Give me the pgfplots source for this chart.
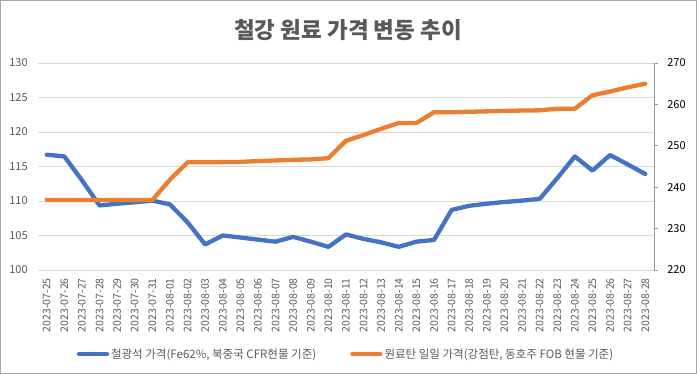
\documentclass[border=0pt]{standalone}
\usepackage{fontspec}
\setmainfont{Noto Sans CJK KR}
\usepackage{pgfplots}
\pgfplotsset{compat=1.18}
\definecolor{cblue}{HTML}{4472C4}
\definecolor{corange}{HTML}{ED7D31}
\definecolor{cgrid}{HTML}{D9D9D9}
\definecolor{ctext}{HTML}{595959}
\begin{document}
\begin{tikzpicture}
\draw[color=gray!70, line width=0.8bp] (0.5bp,0.5bp) rectangle (696.5bp,373.5bp);
\node[font=\fontsize{22.5bp}{26bp}\selectfont\bfseries, text=ctext] at (348bp,344bp) {철강 원료 가격 변동 추이};
\begin{axis}[
  at={(38bp,104bp)}, anchor=south west,
  scale only axis, width=616bp, height=207bp,
  xmin=-0.5, xmax=34.5, ymin=100, ymax=130,
  ytick={100,105,...,130},
  xtick={0,...,34},
  xticklabels={2023-07-25,2023-07-26,2023-07-27,2023-07-28,2023-07-29,2023-07-30,2023-07-31,2023-08-01,2023-08-02,2023-08-03,2023-08-04,2023-08-05,2023-08-06,2023-08-07,2023-08-08,2023-08-09,2023-08-10,2023-08-11,2023-08-12,2023-08-13,2023-08-14,2023-08-15,2023-08-16,2023-08-17,2023-08-18,2023-08-19,2023-08-20,2023-08-21,2023-08-22,2023-08-23,2023-08-24,2023-08-25,2023-08-26,2023-08-27,2023-08-28},
  xticklabel style={rotate=90, anchor=east, inner sep=0pt, font=\fontsize{10.5bp}{12bp}\selectfont, text=ctext},
  xticklabel shift=8bp,
  yticklabel style={inner sep=0pt, font=\fontsize{11bp}{13bp}\selectfont, text=ctext},
  yticklabel shift=10bp,
  /pgf/number format/assume math mode=true,
  axis line style={draw=none},
  major tick length=0pt,
  ymajorgrids, grid style={cgrid, line width=0.8bp},
]
\addplot[cblue, line width=4.3bp, line join=round, line cap=round] coordinates {
(0,116.7) (1,116.45) (2,113.0) (3,109.35) (4,109.6) (5,109.8) (6,110.05)
(7,109.5) (8,106.9) (9,103.7) (10,105.0) (11,104.7) (12,104.4) (13,104.1)
(14,104.8) (15,104.1) (16,103.35) (17,105.15) (18,104.5) (19,104.0) (20,103.35)
(21,104.1) (22,104.35) (23,108.7) (24,109.3) (25,109.6) (26,109.85) (27,110.05)
(28,110.3) (29,113.3) (30,116.45) (31,114.4) (32,116.65) (33,115.3) (34,113.9)
};
\end{axis}
\begin{axis}[
  at={(38bp,104bp)}, anchor=south west,
  scale only axis, width=616bp, height=207bp,
  xmin=-0.5, xmax=34.5, ymin=220, ymax=270,
  ytick={220,230,...,270},
  axis x line=none,
  axis y line*=right,
  y axis line style={draw=gray!80, line width=0.8bp},
  ytick style={draw=gray!80, line width=0.8bp},
  tick align=outside, major tick length=4bp,
  yticklabel style={inner sep=0pt, font=\fontsize{11bp}{13bp}\selectfont, text=black},
  yticklabel shift=9bp,
  /pgf/number format/assume math mode=true,
  legend style={at={(0.5,-0.406)}, anchor=center, draw=none, fill=none,
    font=\fontsize{11.5bp}{13bp}\selectfont, text=ctext, inner sep=0pt,
    /tikz/every even column/.append style={column sep=32bp}},
  legend columns=2,
  legend image code/.code={\draw[#1] (0bp,0bp) -- (28bp,0bp);},
]
\addlegendimage{cblue, line width=4.3bp, line cap=round}
\addlegendentry{철광석 가격(Fe62\%, 북중국 CFR현물 기준)}
\addplot[corange, line width=4.3bp, line join=round, line cap=round] coordinates {
(0,236.9) (1,236.9) (2,236.9) (3,236.9) (4,236.9) (5,236.9) (6,236.9)
(7,241.8) (8,246.0) (9,246.0) (10,246.05) (11,246.1) (12,246.3) (13,246.45)
(14,246.6) (15,246.7) (16,247.0) (17,251.2) (18,252.6) (19,254.1) (20,255.5)
(21,255.5) (22,258.1) (23,258.1) (24,258.2) (25,258.3) (26,258.4) (27,258.5)
(28,258.55) (29,258.95) (30,258.95) (31,262.2) (32,263.1) (33,264.1) (34,265.0)
};
\addlegendentry{원료탄 일일 가격(강점탄, 동호주 FOB 현물 기준)}
\end{axis}
\end{tikzpicture}
\end{document}
